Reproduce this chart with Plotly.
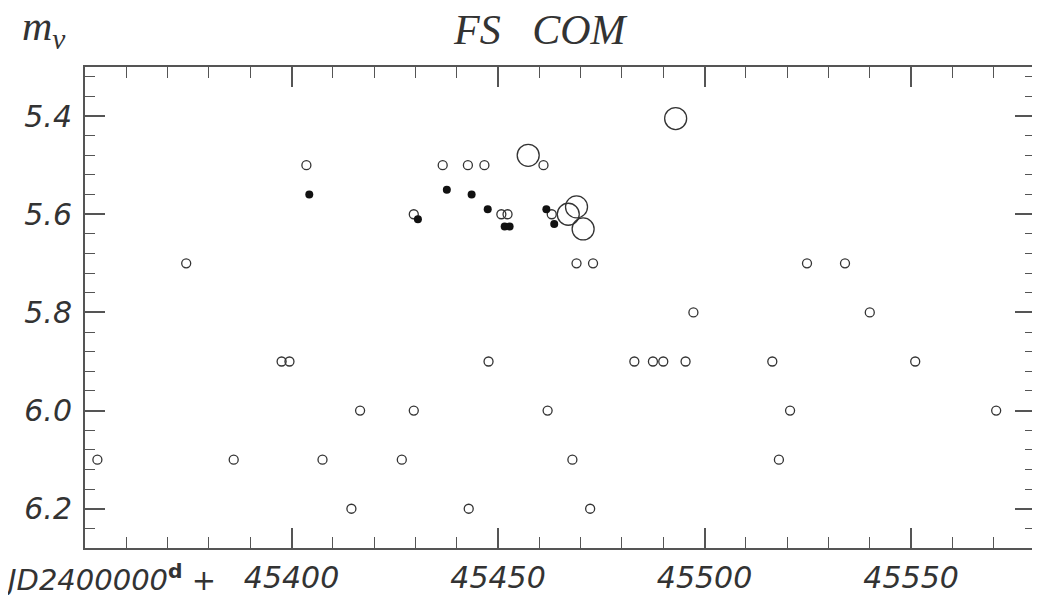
import plotly.graph_objects as go

# Data
open_x = [45353, 45374.5, 45386, 45397.6, 45399.5, 45403.6, 45407.5, 45414.5, 45416.6,
          45426.7, 45429.6, 45429.6, 45436.6, 45442.7, 45446.7, 45442.9, 45447.7,
          45450.8, 45452.3, 45461, 45462, 45463, 45468, 45469, 45473, 45472.3,
          45483, 45487.5, 45490, 45495.4, 45497.3, 45516.4, 45518, 45520.7,
          45524.8, 45534, 45540, 45551, 45570.6]
open_y = [6.1, 5.7, 6.1, 5.9, 5.9, 5.5, 6.1, 6.2, 6.0,
          6.1, 6.0, 5.6, 5.5, 5.5, 5.5, 6.2, 5.9,
          5.6, 5.6, 5.5, 6.0, 5.6, 6.1, 5.7, 5.7, 6.2,
          5.9, 5.9, 5.9, 5.9, 5.8, 5.9, 6.1, 6.0,
          5.7, 5.7, 5.8, 5.9, 6.0]

big_x = [45493, 45457.3, 45467, 45469, 45470.6]
big_y = [5.405, 5.48, 5.6, 5.585, 5.63]

filled_x = [45404.3, 45430.6, 45437.6, 45443.6, 45447.5, 45451.6, 45452.8, 45461.7, 45463.6]
filled_y = [5.56, 5.61, 5.55, 5.56, 5.59, 5.625, 5.625, 5.59, 5.62]

x_tickvals = [45400, 45450, 45500, 45550]
x_ticktext = ["45400", "45450", "45500", "45550"]
y_tickvals = [5.4, 5.6, 5.8, 6.0, 6.2]
y_ticktext = ["5.4", "5.6", "5.8", "6.0", "6.2"]

title_text = "<i>FS   COM</i>"
ylabel_text = "<i>m</i><sub><i>v</i></sub>"
xlabel_text = "<i>JD2400000</i><sup><b>d</b></sup><i> +</i>"

INK = "#333333"
AX = "#555555"

fig = go.Figure()
fig.add_trace(go.Scatter(x=open_x, y=open_y, mode="markers",
                         marker=dict(symbol="circle-open", size=9, color=INK,
                                     line=dict(width=1.3, color=INK)),
                         showlegend=False))
fig.add_trace(go.Scatter(x=big_x, y=big_y, mode="markers",
                         marker=dict(symbol="circle-open", size=22, color=INK,
                                     line=dict(width=1.3, color=INK)),
                         showlegend=False))
fig.add_trace(go.Scatter(x=filled_x, y=filled_y, mode="markers",
                         marker=dict(symbol="circle", size=8, color="#111111"),
                         showlegend=False))

num_font = dict(family="DejaVu Sans", size=30, color=INK, style="italic")

fig.update_layout(
    width=1032, height=587,
    margin=dict(l=77, r=5, t=59, b=47, autoexpand=False),
    paper_bgcolor="white", plot_bgcolor="white",
    xaxis=dict(range=[45350, 45580], showgrid=False, zeroline=False, automargin=False,
               showline=True, linecolor=AX, linewidth=2, mirror="ticks",
               ticks="inside", ticklen=20, tickwidth=1.5, tickcolor=AX,
               tickvals=x_tickvals, ticktext=x_ticktext, tickfont=num_font,
               ticklabelstandoff=2,
               minor=dict(dtick=10, tick0=45350, ticks="inside", ticklen=11,
                          tickwidth=1.2, tickcolor=AX, showgrid=False)),
    yaxis=dict(range=[6.28, 5.3], showgrid=False, zeroline=False, automargin=False,
               showline=True, linecolor=AX, linewidth=2, mirror="ticks",
               ticks="inside", ticklen=20, tickwidth=1.5, tickcolor=AX,
               tickvals=y_tickvals, ticktext=y_ticktext, tickfont=num_font,
               ticklabelstandoff=5,
               minor=dict(dtick=0.04, tick0=5.2, ticks="inside", ticklen=10,
                          tickwidth=1.2, tickcolor=AX, showgrid=False)),
    annotations=[
        dict(text=title_text, xref="paper", yref="paper", x=0.479, y=1.077,
             xanchor="center", yanchor="middle", showarrow=False,
             font=dict(family="Liberation Serif", size=42, color=INK)),
        dict(text=ylabel_text, xref="paper", yref="paper", x=-0.068, y=1.08,
             xanchor="left", yanchor="middle", showarrow=False,
             font=dict(family="Liberation Serif", size=42, color=INK)),
        dict(text=xlabel_text, xref="paper", yref="paper", x=0.14, y=-0.062,
             xanchor="right", yanchor="middle", showarrow=False,
             font=dict(family="DejaVu Sans", size=29, color=INK)),
    ],
)

fig.write_html("out.html")
